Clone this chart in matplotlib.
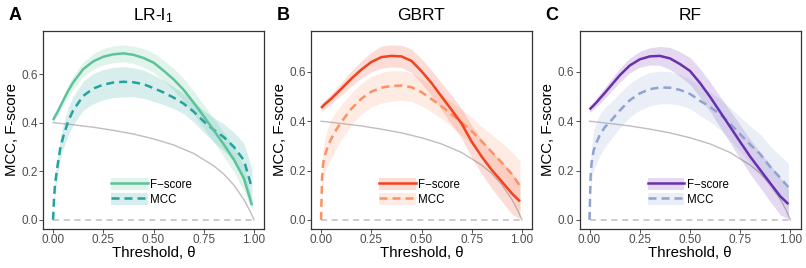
import numpy as np
import matplotlib
matplotlib.use("Agg")
import matplotlib.pyplot as plt
from matplotlib.patches import Patch
from matplotlib.lines import Line2D
from matplotlib.legend_handler import HandlerTuple

plt.rcParams['font.family'] = ['Liberation Sans', 'DejaVu Sans']
plt.rcParams['mathtext.fontset'] = 'custom'
plt.rcParams['mathtext.rm'] = 'Liberation Sans'
plt.rcParams['mathtext.it'] = 'Liberation Sans'

# ---------------- data ----------------
theta = [0, 0.005, 0.01, 0.02, 0.035, 0.05, 0.075, 0.1, 0.15, 0.2, 0.25, 0.3, 0.35,
         0.4, 0.45, 0.5, 0.55, 0.6, 0.65, 0.7, 0.75, 0.8, 0.85, 0.9, 0.95, 0.99]

# baseline (random classifier) curve
base_theta = [0, 0.1, 0.2, 0.3, 0.4, 0.5, 0.6, 0.7, 0.8, 0.85, 0.9, 0.95, 0.98, 1.0]
base_f = [0.4, 0.391, 0.381, 0.368, 0.353, 0.333, 0.308, 0.273, 0.222, 0.188, 0.143, 0.083, 0.037, 0.0]
base_mcc_theta = [0, 1.0]
base_mcc = [0, 0]

titles = ["LR-l$_1$", "GBRT", "RF"]
letters = ["A", "B", "C"]

lr_f = [0.41, 0.418, 0.426, 0.44, 0.465, 0.49, 0.53, 0.565, 0.62, 0.652, 0.671, 0.681, 0.685,
        0.679, 0.666, 0.647, 0.614, 0.578, 0.535, 0.482, 0.426, 0.368, 0.31, 0.248, 0.17, 0.06]
lr_f_sd = [0.008, 0.01, 0.012, 0.015, 0.018, 0.02, 0.025, 0.028, 0.03, 0.032, 0.034, 0.035, 0.035,
           0.036, 0.038, 0.04, 0.042, 0.045, 0.047, 0.048, 0.048, 0.048, 0.05, 0.052, 0.05, 0.02]
lr_mcc = [0.0, 0.09, 0.145, 0.21, 0.29, 0.34, 0.405, 0.45, 0.51, 0.54, 0.556, 0.565, 0.568,
          0.566, 0.558, 0.542, 0.524, 0.503, 0.478, 0.445, 0.405, 0.37, 0.34, 0.3, 0.245, 0.13]
lr_mcc_sd = [0.0, 0.02, 0.03, 0.04, 0.045, 0.05, 0.055, 0.058, 0.06, 0.062, 0.062, 0.062, 0.062,
             0.06, 0.058, 0.055, 0.05, 0.045, 0.042, 0.042, 0.045, 0.05, 0.055, 0.06, 0.07, 0.08]

gb_f = [0.454, 0.458, 0.462, 0.47, 0.48, 0.491, 0.511, 0.531, 0.572, 0.609, 0.64, 0.66, 0.665,
        0.663, 0.645, 0.603, 0.555, 0.5, 0.446, 0.39, 0.317, 0.256, 0.202, 0.155, 0.107, 0.075]
gb_f_sd = [0.015, 0.016, 0.017, 0.018, 0.019, 0.02, 0.022, 0.025, 0.03, 0.035, 0.04, 0.045, 0.045,
           0.045, 0.047, 0.05, 0.052, 0.055, 0.058, 0.06, 0.065, 0.07, 0.075, 0.08, 0.085, 0.07]
gb_mcc = [0.0, 0.17, 0.225, 0.265, 0.3, 0.328, 0.365, 0.396, 0.45, 0.491, 0.52, 0.536, 0.543,
          0.545, 0.538, 0.518, 0.49, 0.46, 0.428, 0.395, 0.36, 0.318, 0.275, 0.232, 0.185, 0.138]
gb_mcc_sd = [0.0, 0.05, 0.06, 0.07, 0.075, 0.08, 0.075, 0.07, 0.065, 0.062, 0.062, 0.062, 0.062,
             0.06, 0.058, 0.055, 0.052, 0.05, 0.05, 0.052, 0.055, 0.06, 0.07, 0.08, 0.09, 0.1]

rf_f = [0.448, 0.452, 0.456, 0.464, 0.477, 0.491, 0.514, 0.538, 0.586, 0.626, 0.651, 0.663, 0.665,
        0.655, 0.632, 0.604, 0.555, 0.499, 0.438, 0.377, 0.316, 0.256, 0.202, 0.148, 0.095, 0.064]
rf_f_sd = [0.012, 0.013, 0.014, 0.015, 0.017, 0.02, 0.022, 0.025, 0.028, 0.03, 0.032, 0.035, 0.038,
           0.045, 0.05, 0.055, 0.058, 0.06, 0.062, 0.065, 0.068, 0.07, 0.072, 0.075, 0.075, 0.06]
rf_mcc = [0.0, 0.172, 0.23, 0.28, 0.315, 0.342, 0.375, 0.396, 0.443, 0.485, 0.513, 0.53, 0.537,
          0.536, 0.527, 0.511, 0.483, 0.458, 0.428, 0.39, 0.347, 0.305, 0.266, 0.214, 0.17, 0.132]
rf_mcc_sd = [0.0, 0.06, 0.07, 0.08, 0.085, 0.085, 0.08, 0.075, 0.07, 0.068, 0.068, 0.068, 0.066,
             0.065, 0.062, 0.06, 0.06, 0.06, 0.062, 0.065, 0.07, 0.075, 0.08, 0.085, 0.09, 0.095]

f_colors = ["#5EC29A", "#F2421F", "#6A2FB0"]
mcc_colors = ["#22A39F", "#FC9165", "#8FA3D0"]
series = [(lr_f, lr_f_sd, lr_mcc, lr_mcc_sd),
          (gb_f, gb_f_sd, gb_mcc, gb_mcc_sd),
          (rf_f, rf_f_sd, rf_mcc, rf_mcc_sd)]
ylims = [(-0.038, 0.777), (-0.037, 0.766), (-0.037, 0.766)]

# ---------------- plot ----------------
W, H = 806, 268
fig = plt.figure(figsize=(W / 100, H / 100), dpi=100)
lefts = [43, 311, 579.5]
aw, top, bot = 221, 31, 229

th = np.array(theta)
for i in range(3):
    ax = fig.add_axes([lefts[i] / W, 1 - bot / H, aw / W, (bot - top) / H])
    f, fsd, m, msd = [np.array(s) for s in series[i]]
    fc, mc = f_colors[i], mcc_colors[i]
    ax.plot(base_theta, base_f, color="#BEBEBE", lw=1.0, zorder=1)
    ax.plot(base_mcc_theta, base_mcc, color="#BEBEBE", lw=1.1, dashes=(4, 3), zorder=1)
    ax.fill_between(th, f - fsd, f + fsd, color=fc, alpha=0.18, lw=0, zorder=2)
    ax.fill_between(th, m - msd, m + msd, color=mc, alpha=0.18, lw=0, zorder=2)
    ax.plot(th, f, color=fc, lw=1.8, zorder=4, solid_capstyle='butt')
    ax.plot(th, m, color=mc, lw=1.8, dashes=(3.2, 2.0), zorder=3)

    ax.set_xlim(-0.05, 1.05)
    ax.set_ylim(*ylims[i])
    ax.set_xticks([0, 0.25, 0.5, 0.75, 1.0])
    ax.set_xticklabels(["0.00", "0.25", "0.50", "0.75", "1.00"])
    ax.set_yticks([0, 0.2, 0.4, 0.6])
    ax.set_yticklabels(["0.0", "0.2", "0.4", "0.6"])
    ax.tick_params(length=2.75, width=0.6, color="#333333", labelcolor="#4D4D4D",
                   labelsize=8.5, pad=1.0)
    for sp in ax.spines.values():
        sp.set_color("#333333")
        sp.set_linewidth(0.9)
    ax.set_xlabel("Threshold, θ", fontsize=10.8)
    ax.xaxis.set_label_coords(0.5, -24 / (bot - top))
    ax.xaxis.label.set_va('center')
    ax.set_ylabel("MCC, F-score", fontsize=10.8)
    ax.yaxis.set_label_coords(-31 / aw, 0.5)
    ax.yaxis.label.set_va('center')

    # legend
    hf = (Patch(facecolor=fc, alpha=0.18, lw=0), Line2D([], [], color=fc, lw=1.8))
    hm = (Patch(facecolor=mc, alpha=0.18, lw=0), Line2D([], [], color=mc, lw=1.8, dashes=(3.2, 2.0)))
    ax.legend([hf, hm], ["F\u2212score", "MCC"], handler_map={tuple: HandlerTuple(ndivide=1, pad=0)},
              loc='lower left', bbox_to_anchor=(0.308, 0.118), frameon=False, fontsize=8.3,
              handlelength=3.2, handleheight=1.2, labelspacing=0.15, handletextpad=0.2,
              borderpad=0, borderaxespad=0)

    cx = (lefts[i] + aw / 2) / W
    fig.text(cx, 1 - 16 / H, titles[i], ha='center', va='center', fontsize=12.5)
    fig.text((lefts[i] - 28) / W, 1 - 16 / H, letters[i], ha='center', va='center',
             fontsize=13, fontweight='bold')

fig.savefig("out.png", dpi=100)
